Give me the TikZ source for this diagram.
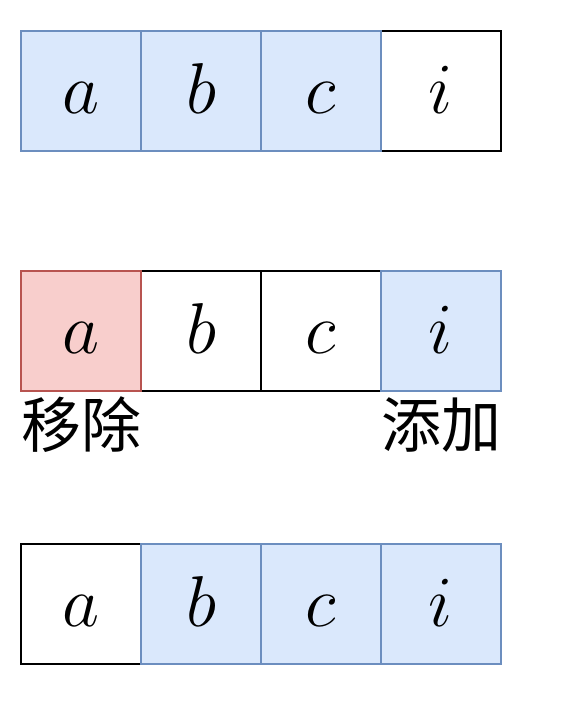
\RequirePackage{fix-cm}
\documentclass[tikz,border=0pt]{standalone}
\usepackage{fontspec}
\newfontfamily\cjk{Noto Sans CJK SC}
\definecolor{bluefill}{HTML}{DAE8FC}
\definecolor{bluedraw}{HTML}{6C8EBF}
\definecolor{redfill}{HTML}{F8CECC}
\definecolor{reddraw}{HTML}{B85450}
\tikzset{
  cell/.style={draw=black, line width=2pt, minimum width=120pt, minimum height=120pt, inner sep=0pt,
    text height=44pt, text depth=0pt, font=\fontsize{72}{86}\selectfont},
  bluecell/.style={cell, draw=bluedraw, fill=bluefill},
  redcell/.style={cell, draw=reddraw, fill=redfill},
  lbl/.style={inner sep=0pt, font=\cjk\fontsize{60}{72}\selectfont}
}
\begin{document}
\begin{tikzpicture}[x=1pt,y=-1pt]
\useasboundingbox (0,0) rectangle (562,717);
% row 1
\node[cell] (r1i) at (441,91) {$i$};
\node[bluecell] (r1a) at (81,91) {$a$};
\node[bluecell] (r1b) at (201,91) {$b$};
\node[bluecell] (r1c) at (321,91) {$c$};
% row 2
\node[cell] (r2b) at (201,331) {$b$};
\node[cell] (r2c) at (321,331) {$c$};
\node[redcell] (r2a) at (81,331) {$a$};
\node[bluecell] (r2i) at (441,331) {$i$};
\node[lbl, anchor=base west] (rm) at (21,447) {移除};
\node[lbl, anchor=base east] (add) at (502,447) {添加};
% row 3
\node[cell] (r3a) at (81,604) {$a$};
\node[bluecell] (r3b) at (201,604) {$b$};
\node[bluecell] (r3c) at (321,604) {$c$};
\node[bluecell] (r3i) at (441,604) {$i$};
\end{tikzpicture}
\end{document}
